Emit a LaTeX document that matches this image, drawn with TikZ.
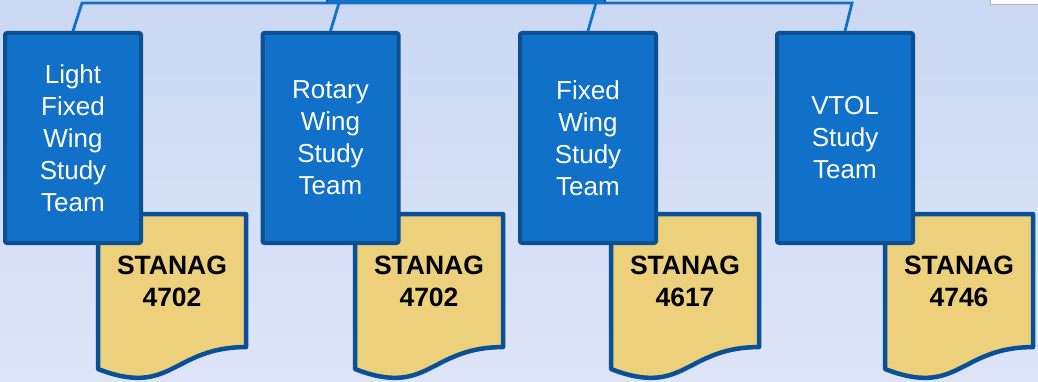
\documentclass[tikz,border=0pt]{standalone}
\usepackage{fontspec}
\setmainfont{Liberation Sans}
\usetikzlibrary{positioning}

\definecolor{bgtop}{RGB}{203,216,243}
\definecolor{bgbot}{RGB}{221,228,247}
\definecolor{teamblue}{RGB}{17,112,200}
\definecolor{teamedge}{RGB}{11,79,148}
\definecolor{docfill}{RGB}{237,208,123}
\definecolor{docedge}{RGB}{10,80,150}

\begin{document}
\begin{tikzpicture}[x=1pt,y=-1pt,
        team/.style={draw=teamedge,fill=teamblue,line width=4pt,rounded corners=2pt,
            minimum width=136pt,minimum height=210pt,text=white,align=center,
            font=\fontsize{26}{32}\selectfont},
        doc/.style={draw=docedge,fill=docfill,line width=4.5pt,line join=round},
        stanagtext/.style={align=center,font=\bfseries\fontsize{26.5}{32}\selectfont},
        bus/.style={draw=teamblue,line width=2.8pt}]
    \useasboundingbox (0,0) rectangle (1038,382);
    \shade[top color=bgtop,bottom color=bgbot] (0,0) rectangle (1038,382);

    % bits of the upper level, cut off by the edge
    \draw[teamedge,fill=teamblue,line width=2pt] (327,-20) rectangle (605,3);
    \draw[bgtop!60!gray,fill=white,line width=0.8pt] (990,-10) rectangle (1050,4);

    % standards documents
    \foreach \x/\num/\name in {98/4702/lfwdoc,355/4702/rwdoc,611/4617/fwdoc,885/4746/vtoldoc}{
        \draw[doc] (\x,214) -- ({\x+148},214) -- ({\x+148},347.1)
            .. controls ({\x+74},347.1) and ({\x+74},397.8) .. (\x,369) -- cycle;
        \node[stanagtext] (\name) at ({\x+74},281) {STANAG\\\num};
    }

    % study teams
    \node[team] (lfw) at (73,138) {Light\\Fixed\\Wing\\Study\\Team};
    \node[team] (rw) at (330.5,138) {Rotary\\Wing\\Study\\Team};
    \node[team] (fw) at (588,138) {Fixed\\Wing\\Study\\Team};
    \node[team] (vtol) at (845,138) {VTOL\\Study\\Team};

    \coordinate (b1) at (82,3);
    \coordinate (b2) at (339,3);
    \coordinate (b3) at (596,3);
    \coordinate (b4) at (852,3);

    \draw[bus] (lfw.north) -- (b1) -- (b2) -- (b3) -- (b4) -- (vtol.north);
    \draw[bus] (rw.north) -- (b2);
    \draw[bus] (fw.north) -- (b3);
\end{tikzpicture}
\end{document}
